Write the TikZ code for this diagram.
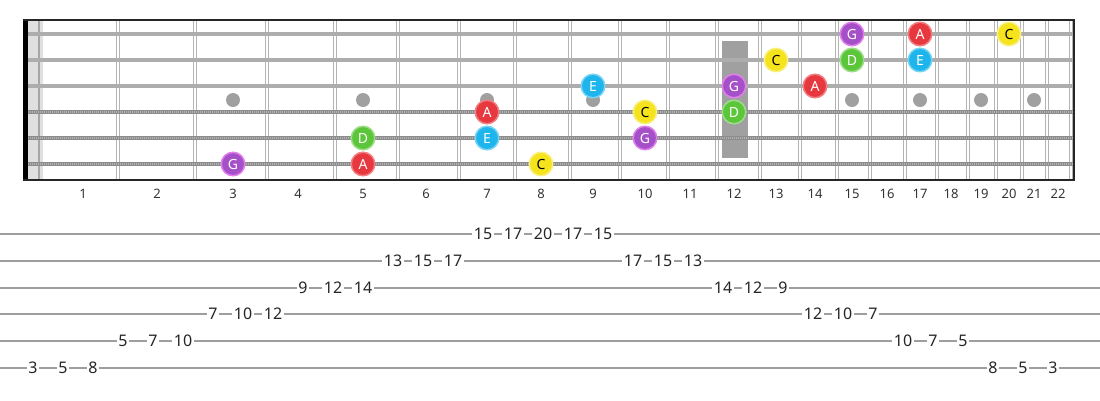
\documentclass[tikz,border=0pt]{standalone}
\usepackage{fontspec}
\setmainfont{Noto Sans}
\definecolor{cA}{HTML}{E8383F}
\definecolor{cC}{HTML}{F4E31D}
\definecolor{cD}{HTML}{5CC63A}
\definecolor{cE}{HTML}{1DB5EC}
\definecolor{cG}{HTML}{A54FC8}
\definecolor{inlay}{HTML}{A0A0A0}
\definecolor{wire}{HTML}{B4B4B4}
\tikzset{
  note/.style={draw, circle, line width=1.5pt, minimum size=23.5pt, inner sep=0pt,
    font=\fontsize{14}{14}\selectfont},
  noteA/.style={note, fill=cA, draw=cA!65!white, text=white},
  noteC/.style={note, fill=cC, draw=cC!55!white, text=black},
  noteD/.style={note, fill=cD, draw=cD!60!white, text=white},
  noteE/.style={note, fill=cE, draw=cE!60!white, text=white},
  noteG/.style={note, fill=cG, draw=cG!55!magenta!60!white, text=white},
  fretnum/.style={text=black!80, font=\fontsize{13}{13}\selectfont, inner sep=0pt},
  tabnum/.style={fill=white, inner sep=1.5pt, text=black!85, font=\fontsize{16}{16}\selectfont},
  tabline/.style={draw=black!38, line width=1.8pt},
  plainstring/.style={draw=black!32, line width=3.4pt},
  woundstring/.style={draw=black!45, line width=4pt},
  windings/.style={draw=white!70!black, line width=2.4pt, dash pattern=on 1pt off 1pt},
}
\begin{document}
\begin{tikzpicture}[x=1pt,y=-1pt]
\useasboundingbox (0,0) rectangle (1100,400);

% nut
\fill[black!12] (28,20) rectangle (43,180);
\draw[black!35, line width=2pt] (39,20) -- (39,180);

% frets (double wires)
\foreach \x in {118,195,267,335,398,459,515,570,620,668,717,760,800,837,870,905,937,968,996,1022,1047,1071}
{
  \draw[wire, line width=1.2pt] (\x-1.8,20) -- (\x-1.8,180);
  \draw[wire, line width=1.2pt] (\x+1.8,20) -- (\x+1.8,180);
}

% fret numbers
\foreach \x [count=\i] in {83,157,233,298,363,426,487,541,593,645,690,734,776,815,852,887,920,951,981,1009,1034,1058}
  \node[fretnum] (f\i) at (\x,194) {\i};

% inlays
\foreach \i in {3,5,7,9,15,17,19,21}
  \fill[inlay] (f\i |- 0,100) circle (7);
\fill[inlay] (722,41) rectangle (748,158);

% strings
\foreach \y [count=\i] in {34,60,86,112,138,164}
  \coordinate (s\i) at (24,\y);
\foreach \i in {1,2,3}
  \path[plainstring] (s\i) -- (s\i -| 1074,0);
\foreach \i in {4,5,6}
{
  \path[woundstring] (s\i) -- (s\i -| 1074,0);
  \path[windings] (s\i) -- (s\i -| 1074,0);
}

% border
\fill[black] (23,20) rectangle (28,180);
\draw[black!85, line width=1.8pt] (23,20) -- (1074,20) -- (1074,180) -- (23,180);

% notes
\node[noteG] (s6f3) at (f3 |- s6) {G};
\node[noteA] (s6f5) at (f5 |- s6) {A};
\node[noteC] (s6f8) at (f8 |- s6) {C};
\node[noteD] (s5f5) at (f5 |- s5) {D};
\node[noteE] (s5f7) at (f7 |- s5) {E};
\node[noteG] (s5f10) at (f10 |- s5) {G};
\node[noteA] (s4f7) at (f7 |- s4) {A};
\node[noteC] (s4f10) at (f10 |- s4) {C};
\node[noteD] (s4f12) at (f12 |- s4) {D};
\node[noteE] (s3f9) at (f9 |- s3) {E};
\node[noteG] (s3f12) at (f12 |- s3) {G};
\node[noteA] (s3f14) at (f14 |- s3) {A};
\node[noteC] (s2f13) at (f13 |- s2) {C};
\node[noteD] (s2f15) at (f15 |- s2) {D};
\node[noteE] (s2f17) at (f17 |- s2) {E};
\node[noteG] (s1f15) at (f15 |- s1) {G};
\node[noteA] (s1f17) at (f17 |- s1) {A};
\node[noteC] (s1f20) at (f20 |- s1) {C};

% tab
\foreach \y [count=\i] in {234,261,288,314,341,368}
  \path[tabline] (0,\y) coordinate (t\i) -- (1100,\y);
\foreach \l/\f [count=\i from 0] in {6/3,6/5,6/8,5/5,5/7,5/10,4/7,4/10,4/12,3/9,3/12,3/14,2/13,2/15,2/17,
    1/15,1/17,1/20,1/17,1/15,2/17,2/15,2/13,3/14,3/12,3/9,4/12,4/10,4/7,5/10,5/7,5/5,6/8,6/5,6/3}
  \path (t\l) ++({33+30*\i},0) node[tabnum] (n\i) {\f};
\end{tikzpicture}
\end{document}
